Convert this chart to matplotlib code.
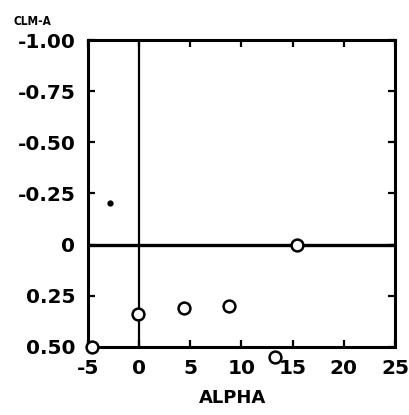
import matplotlib
matplotlib.use("Agg")
import matplotlib.pyplot as plt

# data
alpha_circles = [-4.6, -0.1, 4.4, 8.8, 15.4, 13.3]
clm_circles = [0.50, 0.34, 0.31, 0.30, 0.00, 0.55]
alpha_dot = [-2.8]
clm_dot = [-0.205]
xticks = [-5, 0, 5, 10, 15, 20, 25]
yticks = [-1.00, -0.75, -0.50, -0.25, 0.0, 0.25, 0.50]
ytick_labels = ["-1.00", "-0.75", "-0.50", "-0.25", "0", "0.25", "0.50"]

fig = plt.figure(figsize=(4.10, 4.15), dpi=100)
ax = fig.add_axes([0.2146, 0.1639, 0.7488, 0.7397])
ax.set_xlim(-5, 25)
ax.set_ylim(0.50, -1.00)

ax.axhline(0, color="black", lw=2.4, zorder=2)
ax.axvline(0, color="black", lw=1.6, zorder=2)

ax.plot(alpha_circles, clm_circles, linestyle="none", marker="o", markersize=8.5,
        markerfacecolor="white", markeredgecolor="black", markeredgewidth=1.8,
        clip_on=False, zorder=3)
ax.plot(alpha_dot, clm_dot, linestyle="none", marker="o", markersize=3.5,
        color="black", zorder=3)

for s in ax.spines.values():
    s.set_linewidth(2.2)

ax.set_xticks(xticks)
ax.set_xticklabels([str(v) for v in xticks])
ax.set_yticks(yticks)
ax.set_yticklabels(ytick_labels)
ax.tick_params(direction="in", length=5, width=1.6, top=True, right=True,
               labelsize=14.5, pad=9)
for lab in ax.get_xticklabels() + ax.get_yticklabels():
    lab.set_fontweight("bold")

fig.text(0.568, 0.041, "ALPHA", ha="center", va="center", fontsize=13, fontweight="bold")
fig.text(0.078, 0.947, "CLM-A", ha="center", va="center", fontsize=8.5, fontweight="bold",
         fontstretch="condensed")

fig.savefig("out.png", dpi=100)
